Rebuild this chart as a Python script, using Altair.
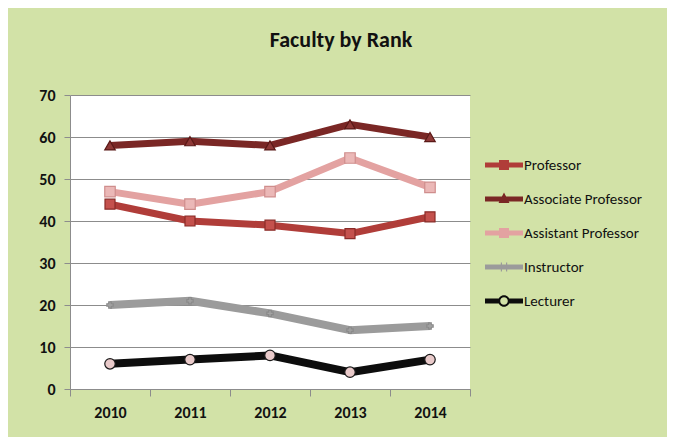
import altair as alt
import pandas as pd

years = ["2010", "2011", "2012", "2013", "2014"]
series = ["Professor", "Associate Professor", "Assistant Professor", "Instructor", "Lecturer"]
professor = [44, 40, 39, 37, 41]
associate = [58, 59, 58, 63, 60]
assistant = [47, 44, 47, 55, 48]
instructor = [20, 21, 18, 14, 15]
lecturer = [6, 7, 8, 4, 7]
y_ticks = [0, 10, 20, 30, 40, 50, 60, 70]

values = [professor, associate, assistant, instructor, lecturer]
rows = []
for s, vals in zip(series, values):
    for yr, v in zip(years, vals):
        rows.append({"year": yr, "series": s, "value": v})
df = pd.DataFrame(rows)

line_colors = ["#b03d39", "#7a2725", "#e3a2a1", "#9b9b9b", "#0d0d0d"]
line_widths = [7, 7, 7, 8, 8]
pt_shapes = ["square", "triangle-up", "square", "cross", "circle"]
pt_fill = ["#c4514d", "#8e3836", "#ebb8b7", "#a3a3a3", "#e9caca"]
pt_stroke = ["#8a2c29", "#5a1917", "#cf8e8d", "#8a8a8a", "#1a1a1a"]
pt_size = [100, 110, 110, 40, 110]

FONT = "Carlito, Lato, sans-serif"

x_enc = alt.X("year:N", sort=years, title=None,
              scale=alt.Scale(paddingInner=0, paddingOuter=0),
              axis=alt.Axis(labelAngle=0, labelFontSize=16, labelFontWeight="bold",
                            labelColor="#111111", labelFont=FONT, tickBand="extent",
                            tickSize=7, tickColor="#8c8c8c", domainColor="#8c8c8c",
                            labelPadding=8, grid=False))
y_enc = alt.Y("value:Q", title=None,
              scale=alt.Scale(domain=[0, 70], nice=False),
              axis=alt.Axis(values=y_ticks, labelFontSize=16, labelFontWeight="bold",
                            labelColor="#111111", labelFont=FONT, tickSize=6,
                            tickColor="#8c8c8c", domainColor="#8c8c8c", labelPadding=9,
                            grid=True, gridColor="#8c8c8c", gridWidth=1))

layers = []
for i, s in enumerate(series):
    base = alt.Chart(df).transform_filter(alt.datum.series == s)
    layers.append(base.mark_line(color=line_colors[i], strokeWidth=line_widths[i],
                                 strokeJoin="round").encode(x=x_enc, y=y_enc))
for i, s in enumerate(series):
    base = alt.Chart(df).transform_filter(alt.datum.series == s)
    layers.append(base.mark_point(shape=pt_shapes[i], filled=True, fill=pt_fill[i],
                                  stroke=pt_stroke[i], strokeWidth=1.2, size=pt_size[i],
                                  opacity=1).encode(x=x_enc, y=y_enc))

bar = "M-1.9,-0.25H1.9V0.25H-1.9Z"
legend_paths = [
    "M-1.9,-0.25H-0.5V-0.5H0.5V-0.25H1.9V0.25H0.5V0.5H-0.5V0.25H-1.9Z",
    bar + " M0,-0.65L0.55,0.4H-0.55Z",
    "M-1.9,-0.25H-0.5V-0.5H0.5V-0.25H1.9V0.25H0.5V0.5H-0.5V0.25H-1.9Z",
    bar + " M-0.32,-0.45H-0.2V0.45H-0.32Z M0.2,-0.45H0.32V0.45H0.2Z",
    "M-1.9,-0.25H-0.5V0.25H-1.9Z M0.5,-0.25H1.9V0.25H0.5Z "
    "M0,-0.58A0.58,0.58 0 1,1 0,0.58A0.58,0.58 0 1,1 0,-0.58Z "
    "M0,-0.38A0.38,0.38 0 1,0 0,0.38A0.38,0.38 0 1,0 0,-0.38Z",
]

# legend-only layer: its y values are null, so no marks are drawn
legend_layer = alt.Chart(df).transform_calculate(nv="null").mark_point(
    filled=True, opacity=1).encode(
    x=x_enc,
    y=alt.Y("nv:Q"),
    color=alt.Color("series:N", sort=series,
                    scale=alt.Scale(domain=series, range=line_colors),
                    legend=alt.Legend(title=None, orient="none", legendX=424, legendY=60,
                                      symbolSize=400, symbolOpacity=1, symbolStrokeWidth=0,
                                      rowPadding=16, labelOffset=10, labelFontSize=15,
                                      labelFont=FONT, labelColor="#111111", padding=0,
                                      labelLimit=300)),
    shape=alt.Shape("series:N", sort=series,
                    scale=alt.Scale(domain=series, range=legend_paths)),
)
layers.append(legend_layer)

chart = alt.layer(*layers).properties(
    width=400, height=294,
    title=alt.TitleParams("Faculty by Rank", fontSize=22, fontWeight="bold", font=FONT,
                          color="#111111", anchor="middle", dx=71, offset=18,
                          baseline="alphabetic"),
    autosize=alt.AutoSizeParams(type="none"),
    padding={"left": 62, "top": 87, "right": 197, "bottom": 48},
    background="#d2e2a7",
).configure_view(fill="white", stroke=None)

chart.save("out.html", embed_options={"renderer": "svg", "actions": False})
